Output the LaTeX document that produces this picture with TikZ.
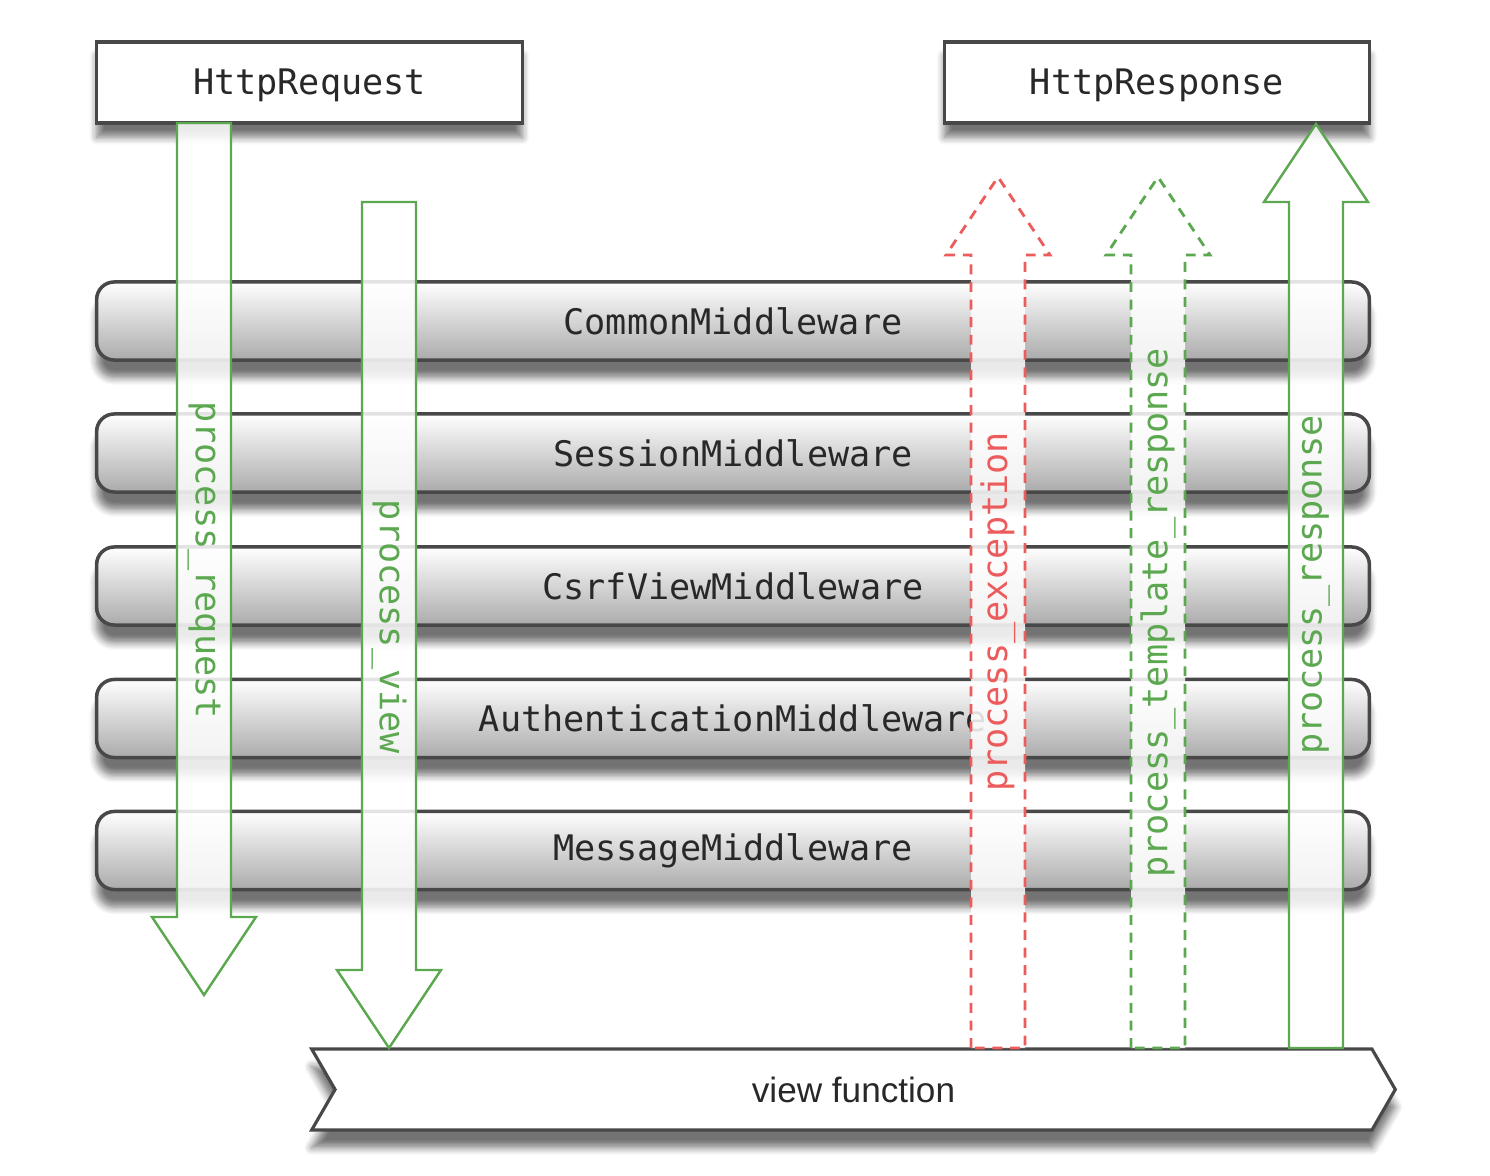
\documentclass[tikz,border=0pt]{standalone}
\usepackage{fontspec}
\setmainfont{Liberation Sans}
\setmonofont{DejaVu Sans Mono}
\usetikzlibrary{shapes.symbols,shadows.blur}
\definecolor{djangoGreen}{RGB}{92,168,80}
\definecolor{djangoRed}{RGB}{236,92,92}
\definecolor{djangoText}{RGB}{40,40,40}
\definecolor{djangoBorder}{RGB}{72,72,72}

% block arrow: style, x centre, start y, neck y, tip y
\newcommand{\mwarrow}[5]{\draw[#1] ({#2-27},#3) -- ({#2-27},#4) -- ({#2-52},#4) -- (#2,#5) -- ({#2+52},#4) -- ({#2+27},#4) -- ({#2+27},#3) -- cycle;}

\begin{document}
\begin{tikzpicture}[x=0.01cm, y=-0.01cm]
  \tikzstyle{httpbox} = [draw=djangoBorder, line width=0.9pt, fill=white, minimum width=4.25cm, minimum height=0.81cm, font=\ttfamily\fontsize{10}{12}\selectfont, text=djangoText, text depth=0.5pt, blur shadow={shadow xshift=0pt, shadow yshift=-4pt, shadow blur steps=6, shadow opacity=55}]
  \tikzstyle{mwbar} = [draw=djangoBorder, line width=1pt, rounded corners=5pt, top color=white, bottom color=black!33, minimum width=12.72cm, minimum height=0.78cm, font=\ttfamily\fontsize{10}{12}\selectfont, text=djangoText, blur shadow={shadow xshift=0pt, shadow yshift=-5pt, shadow blur steps=6, shadow opacity=55}]
  \tikzstyle{solidarrow} = [draw=djangoGreen, line width=0.7pt, fill=white, fill opacity=0.85]
  \tikzstyle{dasharrow} = [line width=0.8pt, dash pattern=on 2.8pt off 2.2pt, fill=white, fill opacity=0.85]
  \tikzstyle{hooklabel} = [font=\ttfamily\fontsize{10}{12}\selectfont, text=djangoGreen, inner sep=0pt]

  \useasboundingbox (0,0) rectangle (1490,1176);

  % request / response boxes
  \node[httpbox] (req) at (309.5,82.5) {HttpRequest};
  \node[httpbox] (resp) at (1157,82.5) {HttpResponse};

  % middleware stack
  \node[mwbar] (common) at (733,321) {CommonMiddleware};
  \node[mwbar] (session) at (733,453) {SessionMiddleware};
  \node[mwbar] (csrf) at (733,586) {CsrfViewMiddleware};
  \node[mwbar] (auth) at (733,718.5) {AuthenticationMiddleware};
  \node[mwbar] (message) at (733,850.5) {MessageMiddleware};

  % view
  \node[signal, signal from=west, signal to=east, signal pointer angle=120, draw=djangoBorder, line width=0.9pt, fill=white, minimum width=10.83cm, minimum height=0.81cm, font=\fontsize{10}{12}\selectfont, text=djangoText, blur shadow={shadow xshift=0pt, shadow yshift=-5pt, shadow blur steps=6, shadow opacity=55}] (view) at (853.5,1089.5) {view function};

  % hooks
  \mwarrow{solidarrow}{204}{123}{917}{995}
  \mwarrow{solidarrow}{389}{202}{970}{1048}
  \mwarrow{dasharrow, draw=djangoRed}{998}{1048}{255}{177}
  \mwarrow{dasharrow, draw=djangoGreen}{1158}{1048}{255}{177}
  \mwarrow{solidarrow}{1316}{1048}{202}{124}

  \node[hooklabel, rotate=-90] (preq) at (204,560) {process\_request};
  \node[hooklabel, rotate=-90] (pview) at (389,627) {process\_view};
  \node[hooklabel, rotate=90, text=djangoRed] (pexc) at (998,612) {process\_exception};
  \node[hooklabel, rotate=90] (ptpl) at (1158,613) {process\_template\_response};
  \node[hooklabel, rotate=90] (presp) at (1316,585) {process\_response};
\end{tikzpicture}
\end{document}
